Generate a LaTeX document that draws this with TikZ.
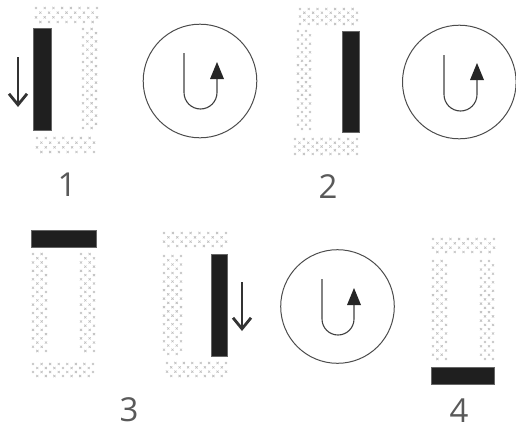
\documentclass[tikz,border=0pt]{standalone}
\usepackage{fontspec}
\setmainfont{Open Sans}
\usetikzlibrary{arrows.meta}
\tikzset{
  bar/.style={fill=black!88,draw=black!60,line width=0.5pt},
  ring/.style={draw=black!70,line width=1pt},
  uline/.style={draw=black!75,line width=1.1pt},
  downarrow/.style={draw=black!80,line width=2pt,-{Straight Barb[length=11pt,width=18pt,line width=2.8pt]}},
  digit/.style={font=\fontsize{33}{33}\selectfont,text=black!65,inner sep=0pt},
  tick/.style={draw=black!25,line width=0.6pt}
}
% strip of small crosses: x0,y0,x1,y1
\newcommand{\hatchstrip}[4]{%
  \pgfmathtruncatemacro{\ncols}{round((#3-#1)/4.3)}%
  \pgfmathtruncatemacro{\nrows}{round((#4-#2)/4.2)}%
  \foreach \ci in {0,...,\ncols}{\foreach \ri in {0,...,\nrows}{%
    \pgfmathtruncatemacro{\myodd}{mod(\ci+\ri,2)}%
    \ifnum\myodd=0
      \path[tick] ({#1+(#3-#1)*\ci/\ncols-1.1},{#2+(#4-#2)*\ri/\nrows-1.1}) -- ++(2.2,2.2)
                  ({#1+(#3-#1)*\ci/\ncols-1.1},{#2+(#4-#2)*\ri/\nrows+1.1}) -- ++(2.2,-2.2);
    \fi}}}
% circle with U-turn: cx, cy, xl, xr, top, bottom, tip
\newcommand{\uturn}[7]{%
  \draw[ring] (#1,#2) circle (56.8);
  \pgfmathsetmacro{\rad}{(#4-#3)/2}%
  \draw[uline] (#3,#5) -- (#3,#6-\rad) arc[start angle=180,end angle=360,x radius=\rad,y radius=-\rad] -- (#4,#7+10);
  \fill[black!85] (#4,#7) -- (#4+7,#7+17) -- (#4-7,#7+17) -- cycle;
}
\begin{document}
\begin{tikzpicture}[x=1pt,y=-1pt]
\useasboundingbox (0,0) rectangle (516,426);
% frame 1
\hatchstrip{36}{8}{97}{22}
\hatchstrip{83}{29}{96}{128}
\hatchstrip{37}{138}{94}{152}
\fill[bar] (33.5,28.5) rectangle (51.5,130);
\coordinate (a1s) at (18,57); \coordinate (a1e) at (18,107);
\draw[downarrow] (a1s) -- (a1e);
\uturn{200}{81}{184}{217}{53}{109}{62}
\node[digit] (n1) at (67,185) {1};
% frame 2
\hatchstrip{300}{9}{357}{24}
\hatchstrip{298}{31}{310}{129}
\hatchstrip{295}{139}{357}{154}
\fill[bar] (342,31) rectangle (359,132);
\uturn{459.3}{82}{444}{477}{55}{111}{63}
\node[digit] (n2) at (328,187) {2};
% frame 3 (first)
\fill[bar] (31,230.5) rectangle (96,247.5);
\hatchstrip{33}{254}{46}{351}
\hatchstrip{81}{254}{94}{351}
\hatchstrip{33}{364}{93}{376}
% frame 3 (second)
\hatchstrip{164}{233}{226}{246}
\hatchstrip{164}{256}{181}{354}
\hatchstrip{167}{363}{226}{376}
\fill[bar] (211,254) rectangle (227.5,356);
\coordinate (a2s) at (242,282); \coordinate (a2e) at (242,331);
\draw[downarrow] (a2s) -- (a2e);
\uturn{337.5}{306.5}{322}{354}{279}{335}{288}
\node[digit] (n3) at (129,410) {3};
% frame 4
\hatchstrip{433}{239}{494}{252}
\hatchstrip{433}{261}{446}{359}
\hatchstrip{481}{261}{493}{359}
\fill[bar] (431,367.5) rectangle (494,384);
\node[digit] (n4) at (459,411) {4};
\end{tikzpicture}
\end{document}
